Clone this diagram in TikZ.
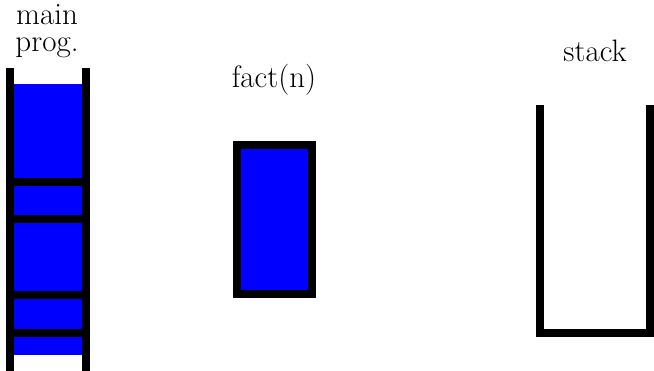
\documentclass[tikz,border=0pt]{standalone}
\begin{document}
\begin{tikzpicture}[x=1pt,y=-1pt,
  bar/.style={line width=8pt},
  lbl/.style={font=\fontsize{31}{27}\selectfont, inner sep=0pt, align=center}]
\useasboundingbox (0,0) rectangle (654,371);
% main program column
\fill[blue] (14,84) rectangle (82,355);
\draw[bar] (10,68) -- (10,371);
\draw[bar] (85.5,68) -- (85.5,371);
\foreach \yy in {182,219.5,295.5,333}
  \draw[bar] (6,\yy) -- (89.5,\yy);
\node[lbl] (main) at (47,31) {main\\prog.};
% fact(n)
\node[lbl] (fact) at (274,80) {fact(n)};
\draw[bar, fill=blue] (237,145) rectangle (312,294);
% stack
\draw[bar] (540,105) -- (540,333) -- (650,333) -- (650,105);
\node[lbl] (stack) at (595,51) {stack};
\end{tikzpicture}
\end{document}
